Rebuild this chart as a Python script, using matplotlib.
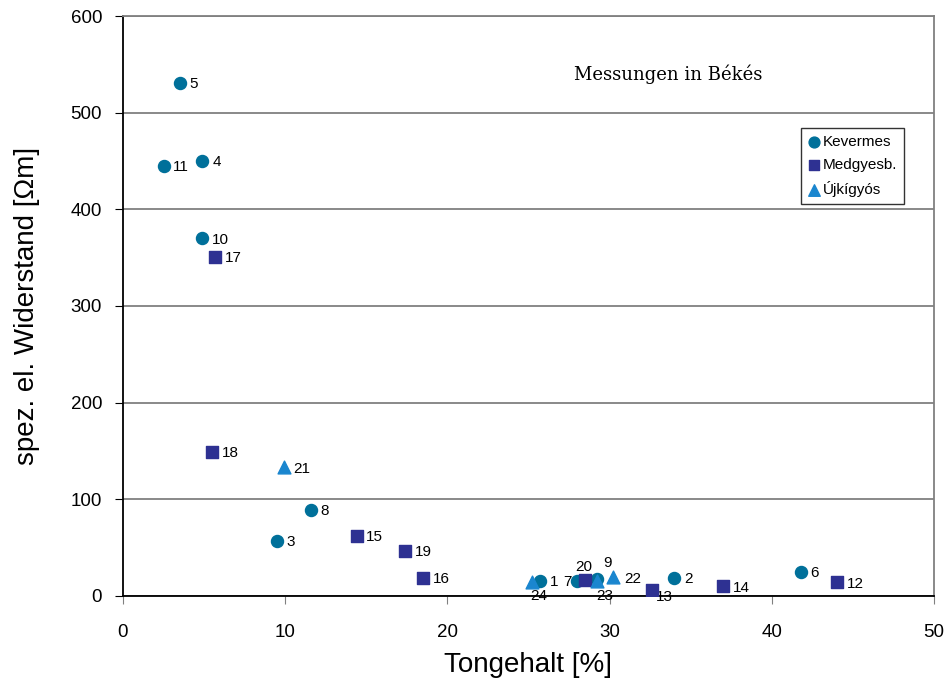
import matplotlib
matplotlib.use('Agg')
import matplotlib.pyplot as plt

plt.rcParams['font.family'] = ['Liberation Sans', 'DejaVu Sans']

# Kevermes (circles)
kev_ids = ['5', '11', '4', '10', '8', '3', '1', '7', '9', '2', '6']
kev_x = [3.5, 2.5, 4.9, 4.9, 11.6, 9.5, 25.7, 28.0, 29.2, 34.0, 41.8]
kev_y = [531, 445, 450, 370, 89, 57, 16, 16, 18, 19, 25]

# Medgyesb. (squares)
med_ids = ['17', '18', '15', '19', '16', '20', '13', '14', '12']
med_x = [5.7, 5.5, 14.4, 17.4, 18.5, 28.5, 32.6, 37.0, 44.0]
med_y = [351, 149, 62, 47, 19, 17, 6, 10, 14]

# Újkígyós (triangles)
ujk_ids = ['21', '24', '23', '22']
ujk_x = [9.9, 25.2, 29.2, 30.2]
ujk_y = [133, 14, 16, 20]

# label offsets in points (default: right of marker)
offsets = {'20': (-7, 9), '9': (5, 11), '7': (-10, -1), '23': (0, -11),
           '24': (-1, -10), '13': (3, -5), '1': (7, -1), '22': (8, -2)}

c_kev = '#00709A'
c_med = '#2E3192'
c_ujk = '#1A86CF'
c_grid = '#808080'

fig = plt.figure(figsize=(9.49, 6.87), dpi=100)
ax = fig.add_axes([0.1296, 0.1325, 0.8546, 0.8442])

ax.scatter(kev_x, kev_y, marker='o', s=75, color=c_kev, label='Kevermes', zorder=3)
ax.scatter(med_x, med_y, marker='s', s=75, color=c_med, label='Medgyesb.', zorder=3)
ax.scatter(ujk_x, ujk_y, marker='^', s=85, color=c_ujk, label='Újkígyós', zorder=3)

for ids, xs, ys in [(kev_ids, kev_x, kev_y), (med_ids, med_x, med_y), (ujk_ids, ujk_x, ujk_y)]:
    for i, x, y in zip(ids, xs, ys):
        dx, dy = offsets.get(i, (7, -1))
        ax.annotate(i, (x, y), xytext=(dx, dy), textcoords='offset points',
                    fontsize=11, ha='left', va='center', zorder=2)

ax.set_xlim(0, 50)
ax.set_ylim(0, 600)
ax.set_xticks(range(0, 51, 10))
ax.set_yticks(range(0, 601, 100))
ax.yaxis.grid(True, color=c_grid, linewidth=1.3)
ax.set_axisbelow(True)
for s in ['top', 'right']:
    ax.spines[s].set_color(c_grid)
    ax.spines[s].set_linewidth(1.3)
ax.spines['left'].set_linewidth(1.3)
ax.spines['bottom'].set_linewidth(1.3)
ax.tick_params(axis='y', labelsize=13.5, direction='out', length=6, pad=9)
ax.tick_params(axis='x', labelsize=13.5, direction='out', length=6, pad=14, color=c_grid)

ax.set_xlabel('Tongehalt [%]', fontsize=20, labelpad=8)
ax.set_ylabel('spez. el. Widerstand [Ωm]', fontsize=20, labelpad=22)

ax.text(33.6, 540, 'Messungen in Békés', family='DejaVu Serif', fontsize=13,
        ha='center', va='center')

leg = ax.legend(loc='upper left', bbox_to_anchor=(0.826, 0.82), fontsize=11,
                frameon=True, fancybox=False, edgecolor='black', handlelength=0.8,
                handletextpad=0.2, borderpad=0.45, labelspacing=0.6, markerscale=0.9)
leg.get_frame().set_linewidth(1.0)

fig.savefig('out.png', dpi=100)
